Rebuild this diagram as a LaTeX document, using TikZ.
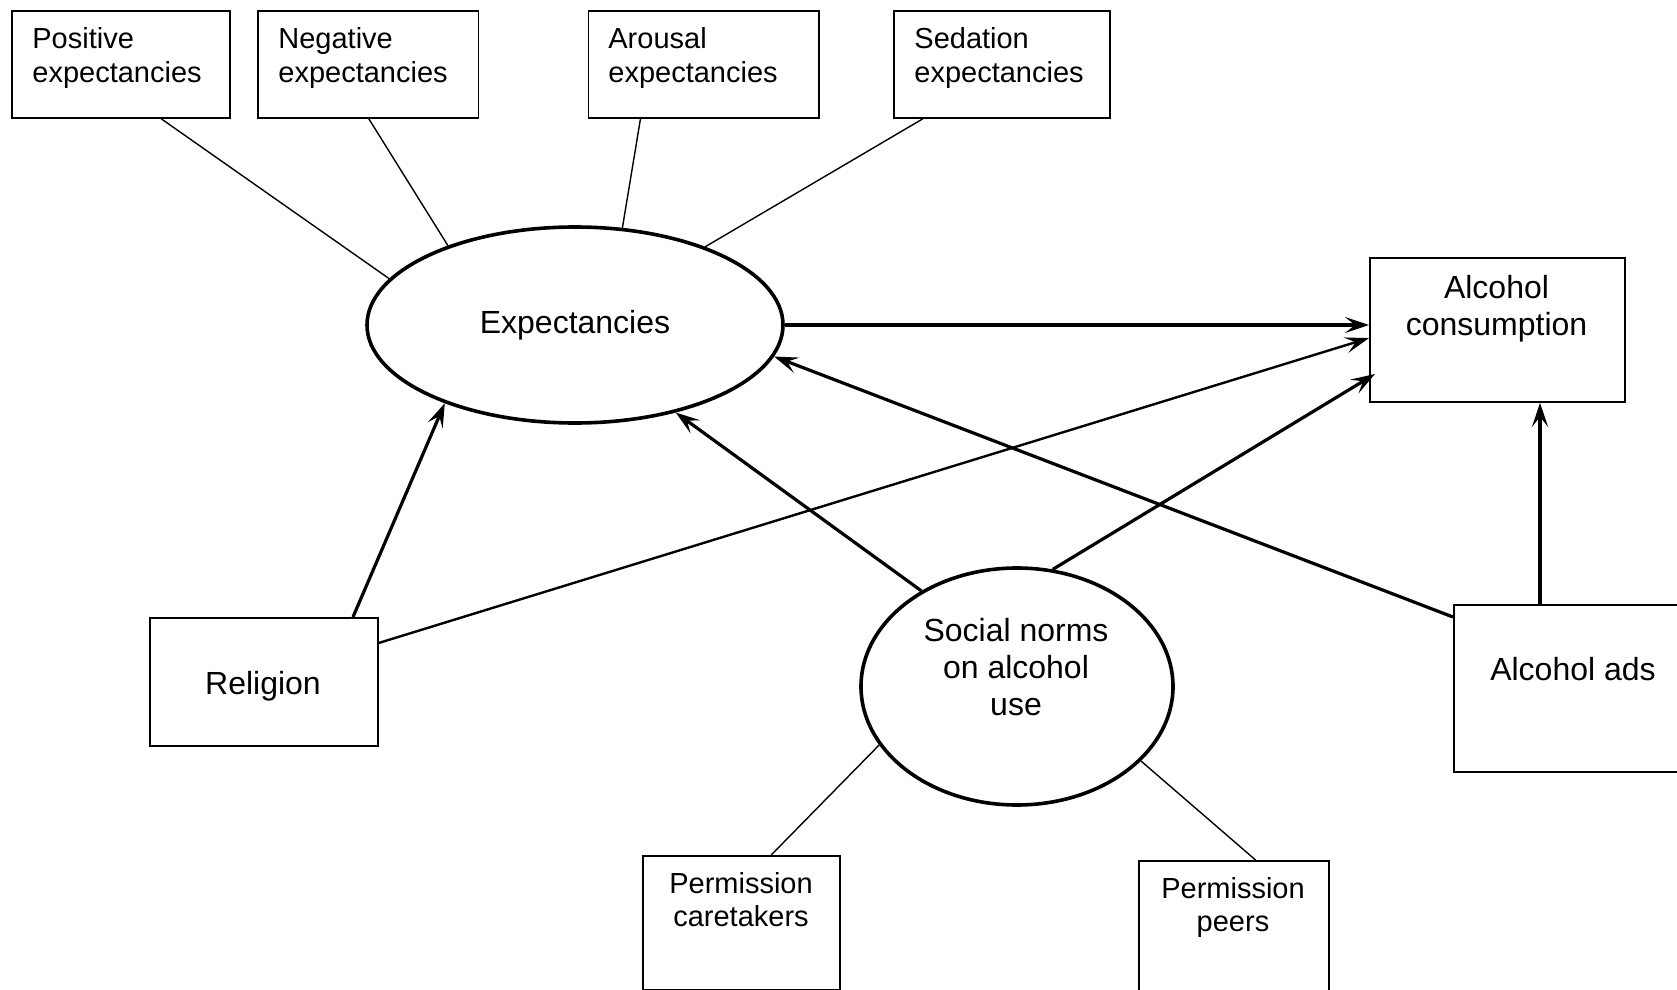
\documentclass[tikz,border=0pt]{standalone}
\usepackage{fontspec}
\setmainfont{Liberation Sans}
\usetikzlibrary{arrows.meta,calc,shapes.geometric}
\begin{document}
\begin{tikzpicture}[x=0.5pt,y=-0.5pt,
  box/.style={draw, line width=0.9pt, inner sep=0pt, anchor=north west},
  oval/.style={draw, ellipse, line width=1.8pt, inner sep=0pt},
  smalltext/.style={font=\fontsize{14.5}{16.9}\selectfont, inner sep=0pt, align=left, anchor=north west},
  bigtext/.style={font=\fontsize{16}{18.4}\selectfont, inner sep=0pt, align=center},
  ctext/.style={font=\fontsize{14.5}{16.7}\selectfont, inner sep=0pt, align=center, anchor=north},
  link/.style={line width=0.7pt},
  arr/.style={line width=1.6pt, -{Stealth[length=12pt,width=8pt,inset=5pt]}},
]
\useasboundingbox (0,0) rectangle (1677,990);

% top boxes
\node[box, minimum width=109.15pt, minimum height=53.5pt] (pos) at (10.7,10) {};
\node[box, minimum width=110.25pt, minimum height=53.5pt] (neg) at (257,10) {};
\node[box, minimum width=115.25pt, minimum height=53.5pt] (aro) at (587.5,10) {};
\node[box, minimum width=108pt, minimum height=53.5pt] (sed) at (893,10) {};
\node[smalltext] (postxt) at (32,27) {Positive\\expectancies};
\node[smalltext] (negtxt) at (278,27) {Negative\\expectancies};
\node[smalltext] (arotxt) at (608,27) {Arousal\\expectancies};
\node[smalltext] (sedtxt) at (914,27) {Sedation\\expectancies};

% ellipses
\node[oval, minimum width=208pt, minimum height=98pt, font=\fontsize{16}{18}\selectfont] (exp) at (575,325) {Expectancies};
\node[oval, minimum width=156pt, minimum height=118.5pt] (soc) at (1017,686.5) {};
\node[bigtext, anchor=north] (soctxt) at (1016,618) {Social norms\\on alcohol\\use};

% other boxes
\node[box, minimum width=127.5pt, minimum height=72pt] (cons) at (1369,257) {};
\node[bigtext, anchor=north] (constxt) at (1496.5,275) {Alcohol\\consumption};
\node[box, minimum width=114pt, minimum height=64pt] (rel) at (149,617) {};
\node[bigtext, anchor=base] (reltxt) at (263,694) {Religion};
\node[box, minimum width=120pt, minimum height=83.5pt] (ads) at (1453,604) {};
\node[bigtext, anchor=base] (adstxt) at (1573,680) {Alcohol ads};
\node[box, minimum width=98.5pt, minimum height=67pt] (care) at (642,855) {};
\node[ctext] (caretxt) at (741,872) {Permission\\caretakers};
\node[box, minimum width=95pt, minimum height=75pt] (peers) at (1138,860) {};
\node[ctext] (peerstxt) at (1233,877) {Permission\\peers};

% thin links to expectancies
\draw[link] ($(pos.south west)!0.684!(pos.south east)$) -- (exp.166.1);
\draw[link] ($(neg.south west)!0.503!(neg.south east)$) -- (exp.148.5);
\draw[link] ($(aro.south west)!0.228!(aro.south east)$) -- (exp.64.4);
\draw[link] ($(sed.south west)!0.137!(sed.south east)$) -- (exp.31);

% thin links from social norms
\draw[link] (soc.203.8) -- ($(care.north west)!0.65!(care.north east)$);
\draw[link] (soc.329.1) -- ($(peers.north west)!0.613!(peers.north east)$);

% arrows
\draw[arr] (exp.east) -- (exp.east -| cons.west);
\draw[arr, line width=1.2pt] ($(rel.north east)!0.2!(rel.south east)$) -- ($(cons.north west)!0.556!(cons.south west)$);
\draw[arr] (soc.73.5) -- ($(cons.north west)+(6,117)$);
\draw[arr] (soc.135) -- (exp.319.3);
\draw[arr] ($(ads.north west)+(0,13)$) -- (exp.351.1);
\draw[arr] ($(rel.north west)+(204,0)$) -- (exp.211.3);
\coordinate (adstop) at ($(ads.north west)+(87,0)$);
\draw[arr] (adstop) -- (adstop |- cons.south);
\end{tikzpicture}
\end{document}
